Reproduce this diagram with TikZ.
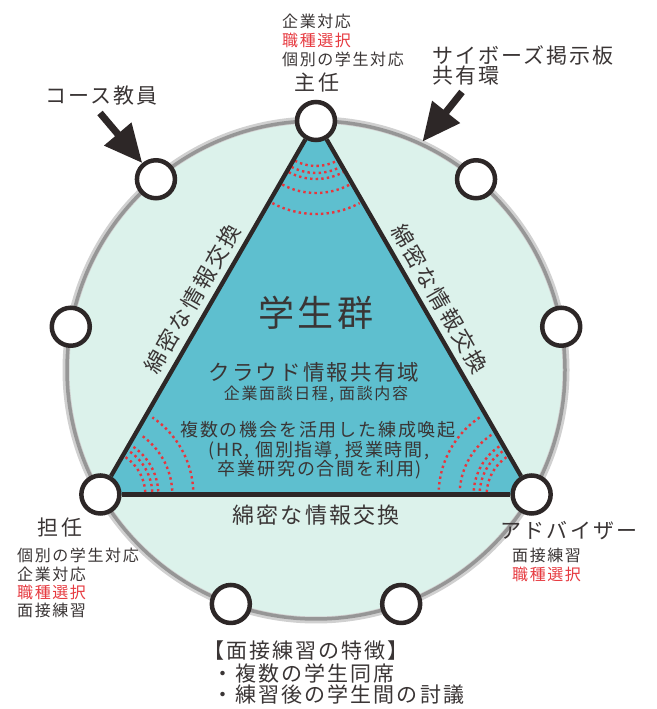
\documentclass[tikz,border=0pt]{standalone}
\usepackage{fontspec}
\setmainfont{Noto Sans CJK JP}[LetterSpace=10]
\usetikzlibrary{arrows.meta}
\definecolor{mint}{HTML}{DCF2EB}
\definecolor{teal}{HTML}{5EBFCF}
\definecolor{ink}{HTML}{3A3535}
\definecolor{nodeline}{HTML}{2D2727}
\definecolor{dotred}{HTML}{E8353C}
\definecolor{lblred}{HTML}{E63A40}
\definecolor{ringgray}{HTML}{969696}
\pgfdeclarelayer{bg}
\pgfdeclarelayer{mid}
\pgfsetlayers{bg,mid,main}
\begin{document}
\begin{tikzpicture}[x=1pt,y=1pt,
  member/.style={circle, draw=nodeline, line width=4.5pt, fill=white, minimum size=38pt, inner sep=0pt},
  lbl/.style={inner sep=0pt, text=ink},
  sm/.style={lbl, font=\fontsize{16}{19}\selectfont},
  md/.style={lbl, font=\fontsize{21}{25}\selectfont},
  edgelbl/.style={lbl, font=\fontsize{22}{26}\selectfont, sloped, midway},
  tri/.style={draw=nodeline, line width=4.3pt},
  bigarrow/.style={draw=nodeline, line width=7pt, -{Triangle[length=38pt,width=34pt]}},
  dotarc/.style={draw=dotred, line width=2.4pt, dash pattern=on 2.4pt off 3.2pt}
]
\useasboundingbox (0,0) rectangle (656,709);
\coordinate (C) at (316,339);
% members on the ring
\foreach \n/\a in {T/90, n1/130, n3/170, L/210, n5/250, n6/290, R/330, n4/10, n2/50}{
  \path (C) ++(\a:249) node[member] (\n) {};
}
\begin{pgfonlayer}{bg}
  \fill[mint] (C) circle[radius=249];
  \draw[ringgray!45, line width=7pt] (C) circle[radius=250];
  \draw[ringgray, line width=3.5pt] (C) circle[radius=249];
\end{pgfonlayer}
\begin{pgfonlayer}{mid}
  \fill[teal] (L.center) -- (T.center) -- (R.center) -- cycle;
  \foreach \r in {45,52,58,72,93}{
    \draw[dotarc] (T.center) ++(-118:\r) arc[start angle=-118, end angle=-62, radius=\r];
    \draw[dotarc] (L.center) ++(3:\r) arc[start angle=3, end angle=56, radius=\r];
    \draw[dotarc] (R.center) ++(124:\r) arc[start angle=124, end angle=177, radius=\r];
  }
  \draw[tri] (L) -- node[edgelbl, above=6pt] (eL) {綿密な情報交換} (T);
  \draw[tri] (T) -- node[edgelbl, above=6pt] (eR) {綿密な情報交換} (R);
  \draw[tri] (L) -- node[edgelbl, below=8pt] (eB) {綿密な情報交換} (R);
\end{pgfonlayer}
% arrows
\coordinate (tailA) at (100,596);
\coordinate (tailB) at (462,617);
\path (C) ++(65:252) coordinate (ringA);
\draw[bigarrow] (tailA) -- (n1);
\draw[bigarrow] (tailB) -- (ringA);
% top labels
\node[sm, anchor=west] (t1) at (282,688) {企業対応};
\node[sm, anchor=west, text=lblred] (t2) at (282,669) {職種選択};
\node[sm, anchor=west] (t3) at (282,650) {個別の学生対応};
\node[md] (shunin) at (317,626) {主任};
\node[md, anchor=west] (cy1) at (432,654) {サイボーズ掲示板};
\node[md, anchor=west] (cy2) at (432,633) {共有環};
\node[md, anchor=west] (course) at (45,613) {コース教員};
% centre
\node[lbl, font=\fontsize{36}{40}\selectfont] (gakusei) at (316,396) {学生群};
\node[lbl, font=\fontsize{21.5}{25}\selectfont] (cloud) at (314,337) {クラウド情報共有域};
\node[sm] (c2) at (316,315) {企業面談日程, 面談内容};
\node[lbl, font=\fontsize{18}{21}\selectfont] (c3) at (318,279) {複数の機会を活用した練成喚起};
\node[lbl, font=\fontsize{18}{21}\selectfont] (c4) at (319,258) {(HR, 個別指導, 授業時間,};
\node[lbl, font=\fontsize{18}{21}\selectfont] (c5) at (320,239) {卒業研究の合間を利用)};
% bottom left
\node[md] (tannin) at (60,181) {担任};
\node[sm, anchor=west] (l1) at (17,154) {個別の学生対応};
\node[sm, anchor=west] (l2) at (17,135) {企業対応};
\node[sm, anchor=west, text=lblred] (l3) at (17,117) {職種選択};
\node[sm, anchor=west] (l4) at (17,99) {面接練習};
% bottom right
\node[md] (adv) at (569,178) {アドバイザー};
\node[sm, anchor=west] (r1) at (512,154) {面接練習};
\node[sm, anchor=west, text=lblred] (r2) at (512,135) {職種選択};
% notes
\node[md, anchor=west] (f1) at (203,58) {【面接練習の特徴】};
\node[md, anchor=west] (f2) at (212,36) {・複数の学生同席};
\node[md, anchor=west] (f3) at (212,14) {・練習後の学生間の討議};
\end{tikzpicture}
\end{document}
